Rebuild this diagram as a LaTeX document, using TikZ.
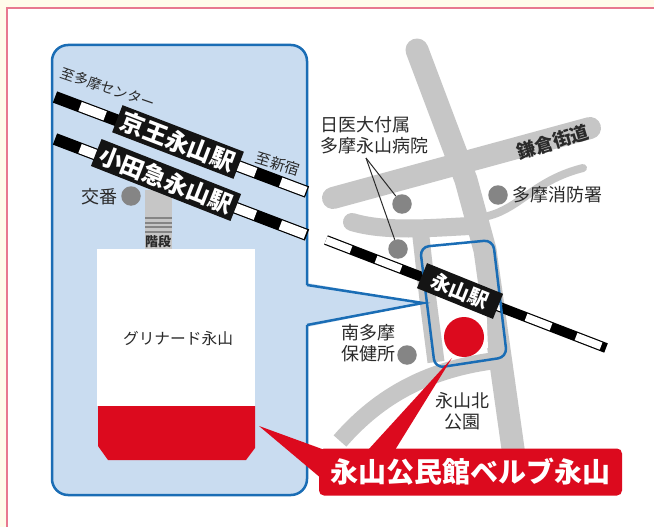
\documentclass[tikz,border=0pt]{standalone}
\usepackage{fontspec}
\newfontfamily\cjk{Noto Sans CJK JP}
\definecolor{framepink}{HTML}{E8788F}
\definecolor{paleyellow}{HTML}{FFFBEA}
\definecolor{panelblue}{HTML}{C9DCF0}
\definecolor{edgeblue}{HTML}{1A6DB5}
\definecolor{roadgray}{HTML}{C6C6C6}
\definecolor{dotgray}{HTML}{858585}
\definecolor{mapred}{HTML}{DC0A1E}
\definecolor{inkblack}{HTML}{2A2A2A}
\tikzset{
  x=1pt,y=-1pt,
  road/.style={draw=roadgray,line width=#1,line cap=round,line join=round},
  road/.default=20pt,
  lbl/.style={font=\cjk\fontsize{#1}{21}\selectfont,text=inkblack,inner sep=0pt,align=center},
  lbl/.default=18,
  dot/.style={circle,fill=dotgray,minimum size=19.5pt,inner sep=0pt},
  railbase/.style={draw=black,line width=#1},
  raildash/.style={draw=white,line width=#1-2.4pt,dash pattern=on 26.8pt off 26.8pt},
  plate/.style={fill=black!92,text=white,font=\cjk\bfseries\fontsize{#1}{#1}\selectfont,inner sep=0pt},
  blueline/.style={draw=edgeblue,line width=2.5pt},
}
\begin{document}
\begin{tikzpicture}
\useasboundingbox (0,0) rectangle (654,527);
\fill[white] (0,0) rectangle (654,527);
\fill[paleyellow] (0,0) rectangle (654,8) (0,8) rectangle (7,527);
\draw[framepink,line width=2pt] (7,527) -- (7,8.5) -- (654,8.5);

% roads on the map
\draw[road=23pt] (417,50) -- (466,180) -- (485,250) -- (516,470);
\draw[road=22pt] (333,198) -- (590,128);
\draw[road=18pt] (352,222) .. controls (385,232) and (430,228) .. (470,226);
\draw[road=8pt] (488,216) .. controls (520,208) and (535,180) .. (583,168);
\draw[road=17pt,line cap=butt] (420,228) -- (428,300) -- (436,362);
\draw[road=17pt,line cap=butt] (340,441) .. controls (380,395) and (430,368) .. (500,360);

% panel
\fill[panelblue] (307,283) -- (424,303) -- (307,327) -- cycle;
\path[fill=panelblue,blueline,rounded corners=16pt]
  (307,285) -- (307,45) -- (52,45) -- (52,495) -- (307,495) -- (307,325);
\fill[panelblue] (300,286.5) rectangle (309,323.5);
\draw[blueline] (307,285) -- (423,303) -- (307,325);

% stairs
\fill[roadgray] (145,190) rectangle (172,250);
\foreach \yy in {218,223,227,232}{\draw[dotgray,line width=1.3pt] (145,\yy) -- (172,\yy);}
\node[lbl=13,font=\cjk\bfseries\fontsize{13}{13}\selectfont] (stairs) at (158,242) {階段};

% building
\fill[white] (97,249) rectangle (255,406);
\fill[mapred] (98,406) -- (255,406) -- (255,448) -- (246,460) -- (108,460) -- (98,446) -- cycle;
\node[lbl=15.7] (bldg) at (178,339) {グリナード永山};

% railways in panel
\foreach \ax/\ay/\bx/\by in {55/97/307/192,55/139/307/235}{
  \draw[railbase=12pt] (\ax,\ay) -- (\bx,\by);
  \draw[raildash=12pt,dash phase=26.8pt] (\ax,\ay) -- (\bx,\by);
}
\node[plate=24,minimum width=130pt,minimum height=29pt,rotate=-21] (keio) at (178,142) {京王永山駅};
\node[plate=23.5,minimum width=150pt,minimum height=29pt,rotate=-21.5] (odakyu) at (166,180) {小田急永山駅};
\node[lbl=14,rotate=-19] (tama) at (108,88) {至多摩センター};
\node[lbl=15,rotate=-17] (shinjuku) at (278,164) {至新宿};
\node[dot] (koban) at (131,196) {};
\node[lbl=18] (kobanl) at (99,197) {交番};

% rail on map
\draw[railbase=10pt] (326,240) -- (606,348);
\draw[raildash=10pt] (326,240) -- (606,348);

% small blue box
\fill[white] (445,300) -- (486,300) -- (488,348) -- (445,356) -- cycle;
\draw[blueline,rounded corners=9pt] (420,247) -- (493,240) -- (507,357) -- (435,368) -- cycle;
\node[plate=20,minimum width=82pt,minimum height=27pt,rotate=-22] (eki) at (460,291) {永山駅};
\node[circle,fill=mapred,minimum size=40pt,inner sep=0pt] (here) at (464,337) {};

% dots and labels on the map
\node[dot] (hosp1) at (402,204) {};
\node[dot] (hosp2) at (398,249) {};
\node[dot] (fire) at (498,195) {};
\node[dot] (south) at (407,355) {};
\node[lbl=18,align=left,anchor=west] (hospl) at (320,135.5) {日医大付属\\多摩永山病院};
\node[lbl=18] (firel) at (557,195) {多摩消防署};
\node[lbl=18,anchor=east] (southl) at (396,343.5) {南多摩\\保健所};
\node[lbl=18] (parkl) at (462,411.5) {永山北\\公園};
\node[lbl=18,font=\cjk\bfseries\fontsize{18.5}{18.5}\selectfont,rotate=17] (kama) at (553,142) {鎌倉街道};
\coordinate (hub) at (366,158);
\draw[inkblack,line width=1pt] (hub) -- (hosp1);
\draw[inkblack,line width=1pt] (hub) -- (hosp2);

% callout
\fill[mapred] (452,358) -- (395,450) -- (368,450) -- cycle;
\fill[mapred] (259,426) -- (322,449) -- (322,479) -- cycle;
\node[fill=mapred,rounded corners=5pt,minimum width=303pt,minimum height=47pt,inner sep=0pt,text=white,font=\cjk\bfseries\fontsize{28}{28}\selectfont] (title) at (470.5,472) {永山公民館ベルブ永山};
\end{tikzpicture}
\end{document}
